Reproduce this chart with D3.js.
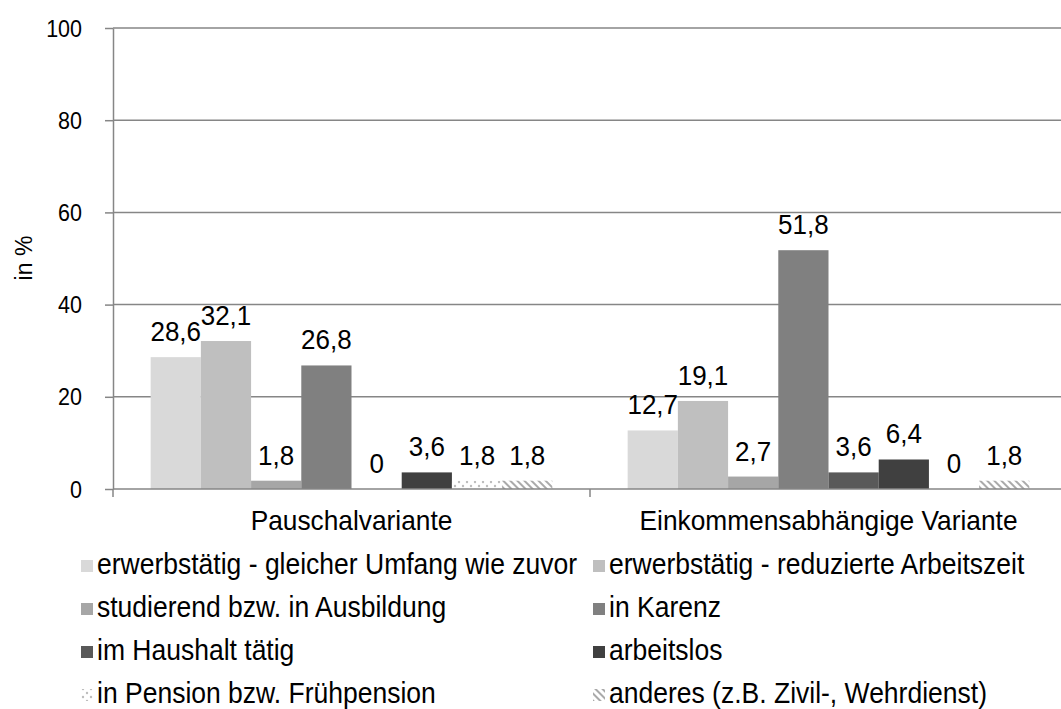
<!DOCTYPE html>
<html>
<head>
<meta charset="utf-8">
<script src="https://d3js.org/d3.v7.min.js"></script>
<style>
  body { margin: 0; background: #fff; }
  svg { display: block; font-family: "Liberation Sans", Arial, sans-serif; }
  .grid line { stroke: #868686; stroke-width: 1.5px; }
  .axis path, .axis line { stroke: #868686; stroke-width: 1.5px; }
  .axis text { fill: #000; font-size: 21.5px; }
  .lbl { font-size: 26px; fill: #000; text-anchor: middle; }
  .cat { font-size: 26.3px; fill: #000; text-anchor: middle; }
  .leg { font-size: 26.5px; fill: #000; }
  .ytitle { font-size: 23px; fill: #000; text-anchor: middle; }
</style>
</head>
<body>
<script>
// categories and series
const categories = ["Pauschalvariante", "Einkommensabhängige Variante"];
const seriesNames = [
  "erwerbstätig - gleicher Umfang wie zuvor",
  "erwerbstätig - reduzierte Arbeitszeit",
  "studierend bzw. in Ausbildung",
  "in Karenz",
  "im Haushalt tätig",
  "arbeitslos",
  "in Pension bzw. Frühpension",
  "anderes (z.B. Zivil-, Wehrdienst)"
];
const pauschal = [28.6, 32.1, 1.8, 26.8, 0, 3.6, 1.8, 1.8];
const einkommen = [12.7, 19.1, 2.7, 51.8, 3.6, 6.4, 0, 1.8];
const yTicks = [0, 20, 40, 60, 80, 100];

const values = [pauschal, einkommen];
const fills = ["#d9d9d9", "#bfbfbf", "#a6a6a6", "#808080", "#595959", "#404040", "url(#dots)", "url(#hatch)"];

const W = 1061, H = 709;
const SY = 1.08; // the picture's text is a little taller than wide
const svg = d3.select("body").append("svg").attr("width", W).attr("height", H);

// text placed with a slight vertical stretch
function place(sel, fx, fy) {
  sel.attr("transform", (d, i) => `translate(${fx(d, i)},${fy(d, i)}) scale(1,${SY})`);
}

// patterns for the last two series
const defs = svg.append("defs");
const dots = defs.append("pattern").attr("id", "dots")
  .attr("patternUnits", "userSpaceOnUse").attr("width", 8).attr("height", 8);
dots.append("rect").attr("width", 8).attr("height", 8).attr("fill", "#fff");
dots.append("circle").attr("cx", 2).attr("cy", 2).attr("r", 1.2).attr("fill", "#bdbdbd");
dots.append("circle").attr("cx", 6).attr("cy", 6).attr("r", 1.2).attr("fill", "#bdbdbd");
const hatch = defs.append("pattern").attr("id", "hatch")
  .attr("patternUnits", "userSpaceOnUse").attr("width", 5).attr("height", 5)
  .attr("patternTransform", "rotate(-45)");
hatch.append("rect").attr("width", 5).attr("height", 5).attr("fill", "#fff");
hatch.append("rect").attr("width", 2).attr("height", 5).attr("fill", "#aaaaaa");

const x0 = d3.scaleBand().domain(categories).range([113, 1067]).paddingInner(0).paddingOuter(0);
const x1 = d3.scaleBand().domain(d3.range(seriesNames.length))
  .range([0, x0.bandwidth()]).paddingOuter(0.75).paddingInner(0);
const y = d3.scaleLinear().domain([0, 100]).range([489, 28]);

// gridlines
svg.append("g").attr("class", "grid")
  .selectAll("line").data(yTicks.slice(1)).join("line")
  .attr("x1", 113).attr("x2", 1067)
  .attr("y1", d => y(d)).attr("y2", d => y(d));

// bars
const groups = svg.append("g").selectAll("g").data(categories).join("g")
  .attr("transform", d => `translate(${x0(d)},0)`);
groups.selectAll("rect").data((d, i) => values[i].map((v, k) => ({ v, k })))
  .join("rect")
  .attr("x", d => x1(d.k))
  .attr("width", x1.bandwidth())
  .attr("y", d => y(d.v))
  .attr("height", d => y(0) - y(d.v))
  .attr("fill", d => fills[d.k]);
groups.selectAll("text").data((d, i) => values[i].map((v, k) => ({ v, k })))
  .join("text").attr("class", "lbl")
  .call(place, d => x1(d.k) + x1.bandwidth() / 2, d => y(d.v) - 16)
  .text(d => String(d.v).replace(".", ","));

// y axis
const yAxis = svg.append("g").attr("class", "axis").attr("transform", "translate(113,0)")
  .call(d3.axisLeft(y).tickValues(yTicks).tickSize(8).tickPadding(23).tickSizeOuter(0));
yAxis.selectAll("text").attr("x", null).attr("dy", "0.35em")
  .call(place, () => -31, () => 0);

// x axis
const xAxis = svg.append("g").attr("class", "axis").attr("transform", "translate(0,489)");
xAxis.append("line").attr("x1", 113).attr("x2", 1067).attr("y1", 0).attr("y2", 0);
xAxis.selectAll(".tk").data([113, 590, 1067]).join("line").attr("class", "tk")
  .attr("x1", d => d).attr("x2", d => d).attr("y1", 0).attr("y2", 8);
svg.append("g").selectAll("text").data(categories).join("text").attr("class", "cat")
  .call(place, d => x0(d) + x0.bandwidth() / 2, () => 530)
  .text(d => d);

// y title
svg.append("text").attr("class", "ytitle")
  .attr("transform", "translate(32,258) rotate(-90)")
  .text("in %");

// legend
const leg = svg.append("g").selectAll("g").data(seriesNames).join("g")
  .attr("transform", (d, i) => `translate(${i % 2 === 0 ? 81 : 593},${566 + Math.floor(i / 2) * 43})`);
leg.append("rect").attr("x", 0).attr("y", -6).attr("width", 12).attr("height", 12)
  .attr("fill", (d, i) => fills[i]);
leg.append("text").attr("class", "leg")
  .attr("transform", `translate(16,8) scale(1,${SY})`)
  .text(d => d);
</script>
</body>
</html>
